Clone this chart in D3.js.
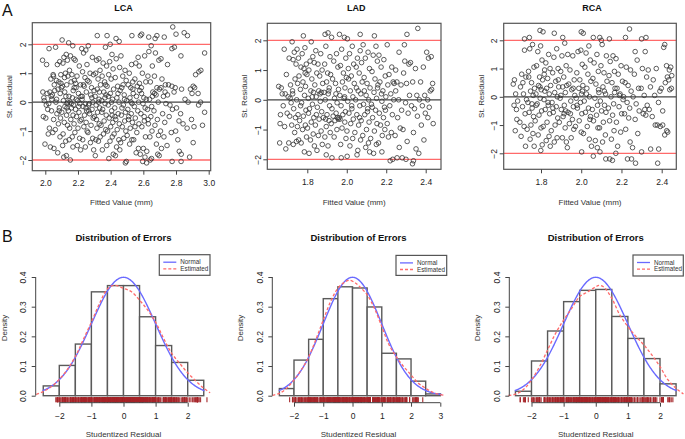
<!DOCTYPE html>
<html><head><meta charset="utf-8">
<script src="https://cdn.jsdelivr.net/npm/d3@7"></script>
<style>body{margin:0;background:#fff}svg{display:block;font-family:"Liberation Sans",Arial,sans-serif}</style>
</head><body><svg id="c" width="685" height="439"></svg>
<script>
// ---------- DATA ----------
const residTicks = [-2,-1,0,1,2];
const lcaFitTicks = [2.0,2.2,2.4,2.6,2.8,3.0];
const ladFitTicks = [1.8,2.0,2.2,2.4];
const rcaFitTicks = [1.8,2.0,2.2,2.4];
const densityTicks = [0,0.1,0.2,0.3,0.4];
const lcaResTicks = [-2,-1,0,1,2];
const ladResTicks = [-2,-1,0,1,2,3];
const rcaResTicks = [-2,-1,0,1,2];
const refLevels = [2,-2];

const lcaPoints = [
[1.983,1.45],[2.008,1.3],[1.994,0.05],[2.015,-0.25],[1.988,-0.5],[2.003,-0.55],[2.018,-1.1],[1.998,-1.45],[2.011,0.3],[1.985,0.35],[2.006,-0.1],[1.991,0.15],
[2.023,1.85],[2.048,0.95],[2.034,0.8],[2.055,0.6],[2.028,0.35],[2.043,0.25],[2.058,0.4],[2.038,-0.3],[2.051,-0.6],[2.025,-0.9],[2.046,-1.05],[2.031,-1.55],[2.053,-1.6],[2.04,0.1],[2.021,-0.05],[2.05,0.9],[2.036,0.2],
[2.063,1.9],[2.088,1.4],[2.074,1.3],[2.095,0.95],[2.068,0.75],[2.083,0.7],[2.098,0.5],[2.078,0.45],[2.091,0.3],[2.065,0.0],[2.086,-0.2],[2.071,-0.4],[2.093,-0.55],[2.08,-0.75],[2.061,-0.95],[2.09,-1.2],[2.076,-1.75],[2.096,0.65],[2.069,0.1],[2.085,-0.3],
[2.103,2.15],[2.128,1.65],[2.114,1.55],[2.135,1.45],[2.108,1.35],[2.123,1.0],[2.138,0.9],[2.118,0.85],[2.131,0.6],[2.105,0.55],[2.126,0.2],[2.111,0.05],[2.133,-0.05],[2.12,-0.15],[2.101,-0.35],[2.13,-0.45],[2.116,-0.7],[2.136,-0.8],[2.109,-1.1],[2.125,-1.35],[2.106,-1.5],[2.129,-1.85],[2.113,-1.9],[2.137,0.0],[2.119,0.35],[2.132,-0.2],
[2.143,2.05],[2.168,1.95],[2.154,1.6],[2.175,1.5],[2.148,1.1],[2.163,0.95],[2.178,0.75],[2.158,0.7],[2.171,0.4],[2.145,0.2],[2.166,0.15],[2.151,0.0],[2.173,-0.1],[2.16,-0.2],[2.141,-0.3],[2.17,-0.45],[2.156,-0.6],[2.176,-0.75],[2.149,-0.9],[2.165,-1.2],[2.146,-1.3],[2.169,-1.55],[2.153,-2.0],[2.177,0.5],[2.159,-0.05],
[2.183,1.45],[2.208,1.25],[2.194,0.9],[2.215,0.6],[2.188,0.5],[2.203,0.3],[2.218,0.2],[2.198,0.05],[2.211,-0.05],[2.185,-0.25],[2.206,-0.35],[2.191,-0.5],[2.213,-0.65],[2.2,-0.9],[2.181,-1.05],[2.21,-1.25],[2.196,-1.5],[2.216,-1.65],[2.189,0.1],[2.205,-0.15],[2.186,0.65],
[2.223,1.85],[2.248,1.8],[2.234,1.7],[2.255,1.3],[2.228,1.05],[2.243,0.85],[2.258,0.75],[2.238,0.55],[2.251,0.35],[2.225,0.1],[2.246,-0.05],[2.231,-0.15],[2.253,-0.3],[2.24,-0.45],[2.221,-0.6],[2.25,-0.7],[2.236,-0.85],[2.256,-1.0],[2.229,-1.3],[2.245,-1.55],[2.226,0.2],[2.249,-0.2],[2.233,0.6],
[2.263,1.95],[2.288,1.55],[2.274,1.0],[2.295,0.95],[2.268,0.7],[2.283,0.5],[2.298,0.4],[2.278,0.25],[2.291,0.0],[2.265,-0.1],[2.286,-0.25],[2.271,-0.4],[2.293,-0.55],[2.28,-0.8],[2.261,-1.05],[2.29,-1.25],[2.276,-1.4],[2.296,-1.65],[2.269,-0.05],[2.285,0.15],[2.266,-0.3],
[2.318,2.3],[2.328,1.5],[2.314,1.45],[2.335,1.1],[2.308,1.0],[2.323,0.8],[2.338,0.6],[2.318,0.45],[2.331,0.35],[2.305,0.2],[2.326,0.0],[2.311,-0.1],[2.333,-0.2],[2.32,-0.35],[2.301,-0.5],[2.33,-0.75],[2.316,-0.9],[2.336,-1.2],[2.309,-1.3],[2.325,-1.35],[2.306,-1.85],[2.329,0.1],[2.313,-0.6],
[2.378,2.3],[2.368,1.9],[2.354,1.35],[2.375,1.25],[2.348,0.9],[2.363,0.7],[2.378,0.55],[2.358,0.35],[2.371,0.25],[2.345,0.05],[2.366,-0.05],[2.351,-0.25],[2.373,-0.45],[2.36,-0.65],[2.341,-0.8],[2.37,-0.95],[2.356,-1.1],[2.376,-1.5],[2.349,-1.65],[2.365,0.15],[2.346,-0.35],[2.369,0.6],
[2.397,2.0],[2.408,1.65],[2.394,1.4],[2.415,1.15],[2.388,0.95],[2.403,0.8],[2.418,0.45],[2.398,0.3],[2.411,0.1],[2.385,-0.1],[2.406,-0.3],[2.391,-0.55],[2.413,-0.7],[2.4,-0.85],[2.381,-1.0],[2.41,-1.2],[2.396,-1.35],[2.416,-1.8],[2.389,-1.95],[2.405,0.0],[2.386,0.2],[2.409,-0.45],
[2.433,2.2],[2.452,2.1],[2.434,1.5],[2.455,1.2],[2.428,0.85],[2.443,0.55],[2.458,0.4],[2.438,0.15],[2.451,0.0],[2.425,-0.2],[2.446,-0.4],[2.431,-0.6],[2.453,-0.75],[2.44,-0.95],[2.421,-1.1],[2.45,-1.3],[2.436,-1.55],[2.456,-1.65],[2.429,-1.85],[2.445,0.3],[2.426,-0.5],
[2.463,1.6],[2.488,1.1],[2.474,0.9],[2.495,0.75],[2.468,0.5],[2.483,0.25],[2.498,0.05],[2.478,-0.1],[2.491,-0.35],[2.465,-0.45],[2.486,-0.65],[2.471,-0.85],[2.493,-1.0],[2.48,-1.25],[2.461,-1.4],[2.49,-2.1],[2.496,-2.05],[2.476,0.6],[2.469,-0.2],[2.485,0.1],
[2.53,2.3],[2.528,1.3],[2.514,1.0],[2.535,0.7],[2.508,0.6],[2.523,0.5],[2.538,0.3],[2.518,0.15],[2.531,-0.05],[2.505,-0.25],[2.526,-0.4],[2.511,-0.5],[2.533,-0.7],[2.52,-0.9],[2.501,-1.15],[2.53,-1.3],[2.516,-1.45],[2.536,0.45],[2.509,-0.6],[2.525,0.0],
[2.582,2.3],[2.568,1.55],[2.554,1.35],[2.575,1.25],[2.548,0.8],[2.563,0.55],[2.578,0.4],[2.558,0.2],[2.571,0.0],[2.545,-0.15],[2.566,-0.3],[2.551,-0.55],[2.573,-0.75],[2.56,-1.05],[2.541,-1.3],[2.57,-1.6],[2.556,-1.75],[2.576,0.65],[2.549,-0.85],
[2.59,2.35],[2.608,1.6],[2.594,1.0],[2.615,0.7],[2.588,0.5],[2.603,0.15],[2.618,0.1],[2.598,-0.05],[2.611,-0.2],[2.585,-0.4],[2.606,-0.65],[2.591,-0.85],[2.613,-1.2],[2.6,-1.6],[2.581,-1.8],[2.61,-1.9],[2.596,-2.05],[2.62,-2.1],[2.589,0.3],[2.605,-0.5],
[2.633,2.25],[2.648,1.95],[2.634,1.75],[2.655,1.25],[2.628,0.9],[2.643,0.7],[2.658,0.35],[2.638,0.1],[2.651,-0.15],[2.625,-0.25],[2.646,-0.5],[2.631,-0.75],[2.653,-1.0],[2.64,-1.2],[2.621,-1.7],[2.65,-1.95],[2.642,-2.0],[2.656,0.2],[2.629,-0.6],
[2.683,2.3],[2.672,2.2],[2.674,1.7],[2.695,1.45],[2.668,0.9],[2.683,0.5],[2.698,0.45],[2.678,0.25],[2.691,0.0],[2.665,-0.3],[2.686,-0.6],[2.671,-0.8],[2.693,-1.15],[2.68,-1.45],[2.688,-1.8],[2.697,-1.85],[2.669,0.3],
[2.728,2.25],[2.708,1.5],[2.714,0.8],[2.735,0.6],[2.708,0.5],[2.723,0.2],[2.738,-0.05],[2.718,-0.4],[2.731,-0.7],[2.705,-1.0],[2.726,-1.2],[2.711,-1.6],[2.733,0.35],
[2.775,1.85],[2.748,1.3],[2.754,0.6],[2.775,0.55],[2.748,0.25],[2.763,-0.1],[2.778,-0.25],[2.758,-0.5],[2.771,-1.05],[2.745,-1.5],[2.776,-2.05],
[2.78,2.6],[2.8,2.35],[2.79,1.9],[2.795,0.5],[2.788,0.35],[2.803,-0.2],[2.818,-0.65],[2.798,-1.0],[2.811,-1.3],
[2.85,2.4],[2.83,1.6],[2.834,0.45],[2.855,0.1],[2.828,-0.4],[2.843,-0.75],[2.82,-1.7],[2.832,-1.8],[2.831,-2.05],
[2.87,2.3],[2.888,0.45],[2.874,0.0],[2.895,-0.6],[2.868,-0.9],[2.883,-1.9],[2.898,0.3],
[2.94,1.05],[2.905,0.55],[2.914,0.5],[2.935,0.3],[2.938,-0.1],[2.91,-0.85],[2.905,-1.4],[2.92,0.95],
[2.975,1.7],[2.952,1.1],[2.95,0.0],[2.975,-0.35],[2.962,-0.8]
];

const ladPoints = [
[1.655,0.45],[1.668,0.4],[1.664,-0.5],[1.662,-0.8],[1.66,-1.45],[1.673,0.2],[1.678,-0.2],
[1.683,1.7],[1.708,1.4],[1.694,0.85],[1.715,0.5],[1.688,0.2],[1.703,0.1],[1.718,-0.1],[1.698,-0.45],[1.711,-0.55],[1.685,-0.9],[1.706,-1.45],[1.691,-1.65],[1.713,0.05],
[1.723,1.95],[1.748,1.7],[1.734,1.6],[1.755,1.4],[1.728,1.35],[1.743,1.2],[1.758,0.8],[1.738,0.7],[1.751,0.55],[1.725,0.3],[1.746,0.0],[1.731,-0.3],[1.753,-0.5],[1.74,-0.6],[1.721,-0.85],[1.75,-0.9],[1.736,-1.1],[1.756,-1.35],[1.729,-1.5],[1.745,-1.4],[1.726,0.2],
[1.78,2.15],[1.788,1.75],[1.774,1.55],[1.795,1.2],[1.768,1.1],[1.783,1.05],[1.798,0.85],[1.778,0.6],[1.791,0.45],[1.765,0.35],[1.786,0.15],[1.771,-0.1],[1.793,-0.35],[1.78,-0.55],[1.761,-0.7],[1.79,-0.85],[1.776,-1.0],[1.796,-1.25],[1.769,-1.45],[1.785,-1.75],[1.766,-0.2],[1.789,0.9],
[1.82,1.95],[1.828,1.45],[1.814,1.3],[1.835,1.25],[1.808,1.0],[1.823,0.7],[1.838,0.5],[1.818,0.3],[1.831,0.25],[1.805,0.05],[1.826,-0.15],[1.811,-0.3],[1.833,-0.6],[1.82,-0.75],[1.801,-0.95],[1.83,-1.15],[1.816,-1.35],[1.836,-1.55],[1.809,-1.8],[1.825,0.1],[1.806,-0.45],
[1.843,1.65],[1.868,1.55],[1.854,1.2],[1.875,1.0],[1.848,0.9],[1.863,0.8],[1.878,0.55],[1.858,0.3],[1.871,0.25],[1.845,0.1],[1.866,-0.05],[1.851,-0.25],[1.873,-0.4],[1.86,-0.65],[1.841,-0.85],[1.87,-1.05],[1.856,-1.2],[1.876,-1.5],[1.849,-1.7],[1.865,0.2],[1.846,-0.5],
[1.89,2.2],[1.905,2.25],[1.894,1.8],[1.915,1.45],[1.888,1.2],[1.903,0.9],[1.918,0.85],[1.898,0.6],[1.911,0.4],[1.885,0.25],[1.906,0.2],[1.891,0.0],[1.913,-0.2],[1.9,-0.5],[1.881,-0.6],[1.91,-0.7],[1.896,-0.9],[1.916,-1.1],[1.889,-1.25],[1.905,-1.55],[1.896,-1.85],[1.909,0.3],[1.893,-0.65],
[1.923,2.1],[1.948,1.55],[1.934,1.3],[1.955,1.1],[1.928,0.7],[1.943,0.55],[1.958,0.35],[1.938,0.05],[1.951,-0.1],[1.925,-0.3],[1.946,-0.45],[1.931,-0.55],[1.953,-0.6],[1.94,-0.7],[1.921,-0.8],[1.95,-1.0],[1.936,-1.25],[1.925,-1.95],[1.957,-0.65],[1.945,0.2],
[1.963,2.2],[1.988,2.1],[1.974,1.7],[1.995,1.4],[1.968,1.15],[1.983,0.9],[1.998,0.75],[1.978,0.6],[1.991,0.4],[1.965,0.15],[1.986,0.05],[1.971,-0.2],[1.993,-0.4],[1.98,-0.5],[1.961,-0.6],[1.99,-0.75],[1.976,-0.95],[1.996,-1.3],[1.969,-1.5],[1.972,-1.95],[1.966,-0.65],[1.989,0.1],
[2.003,2.05],[2.028,1.8],[2.014,1.55],[2.035,1.2],[2.008,1.05],[2.023,0.8],[2.038,0.55],[2.018,0.3],[2.031,0.1],[2.005,-0.05],[2.026,-0.3],[2.011,-0.45],[2.033,-0.65],[2.02,-0.8],[2.001,-1.05],[2.03,-1.3],[2.016,-1.55],[2.002,-1.9],[2.009,0.7],[2.025,-0.2],
[2.068,2.2],[2.068,1.65],[2.054,1.4],[2.075,1.25],[2.048,1.1],[2.063,0.9],[2.078,0.6],[2.058,0.3],[2.071,0.2],[2.045,0.0],[2.066,-0.2],[2.051,-0.5],[2.073,-0.7],[2.06,-0.85],[2.041,-1.1],[2.07,-1.35],[2.056,-1.7],[2.052,-1.85],[2.049,0.4],[2.065,-0.6],
[2.083,1.85],[2.108,1.6],[2.094,1.4],[2.115,1.05],[2.088,0.75],[2.103,0.55],[2.118,0.4],[2.098,0.15],[2.111,0.0],[2.085,-0.15],[2.106,-0.3],[2.091,-0.5],[2.113,-0.75],[2.1,-1.0],[2.081,-1.2],[2.11,-1.45],[2.096,-1.6],[2.116,-1.75],[2.089,0.3],[2.105,-0.4],
[2.14,2.15],[2.148,1.8],[2.134,1.5],[2.155,1.3],[2.128,0.95],[2.143,0.7],[2.158,0.5],[2.138,0.25],[2.151,0.05],[2.125,-0.15],[2.146,-0.35],[2.131,-0.6],[2.153,-0.8],[2.14,-1.05],[2.121,-1.3],[2.15,-1.5],[2.136,-1.8],[2.156,0.4],[2.129,-0.25],
[2.163,1.5],[2.188,1.35],[2.174,1.1],[2.195,0.8],[2.168,0.6],[2.183,0.3],[2.198,0.1],[2.178,-0.05],[2.191,-0.25],[2.165,-0.45],[2.186,-0.6],[2.171,-0.85],[2.193,-1.0],[2.18,-1.2],[2.161,-1.45],[2.178,-1.75],[2.176,0.2],[2.196,-0.35],
[2.205,1.85],[2.228,1.1],[2.214,0.85],[2.235,0.6],[2.208,0.5],[2.223,0.2],[2.238,0.0],[2.218,-0.2],[2.231,-0.5],[2.205,-0.8],[2.226,-1.1],[2.211,-1.25],[2.22,-2.05],[2.233,-2.0],[2.24,0.55],
[2.265,1.6],[2.248,1.0],[2.254,0.6],[2.275,0.5],[2.248,0.3],[2.263,0.0],[2.278,-0.35],[2.258,-0.6],[2.271,-0.95],[2.245,-1.2],[2.266,-1.6],[2.255,-1.95],
[2.305,2.2],[2.292,1.85],[2.294,1.3],[2.315,1.2],[2.288,0.9],[2.303,0.55],[2.318,0.15],[2.298,-0.1],[2.311,-0.45],[2.285,-1.0],[2.306,-1.4],[2.281,-1.95],[2.3,-2.0],
[2.323,1.25],[2.348,1.05],[2.334,0.6],[2.355,0.15],[2.328,-0.2],[2.343,-0.3],[2.358,-0.55],[2.338,-1.1],[2.351,-1.65],[2.338,-2.05],[2.333,-2.15],
[2.36,2.4],[2.388,1.1],[2.374,0.6],[2.395,0.15],[2.368,0.0],[2.383,-0.2],[2.398,-0.45],[2.378,-0.85],[2.391,-1.35],[2.365,-1.8],
[2.405,1.6],[2.428,1.45],[2.414,1.4],[2.435,0.55],[2.43,0.35],[2.423,0.3],[2.41,0.0],[2.418,-0.25],[2.411,-0.6],[2.438,-0.8]
];

const rcaPoints = [
[1.668,0.6],[1.662,0.45],[1.674,0.1],[1.666,-0.3],[1.678,-0.45],[1.68,-0.8],[1.672,-1.2],[1.684,-0.15],
[1.718,2.05],[1.718,1.65],[1.704,0.8],[1.725,0.7],[1.698,0.35],[1.713,0.1],[1.728,-0.1],[1.708,-0.35],[1.721,-0.6],[1.695,-0.9],[1.716,-1.05],[1.701,-1.4],[1.723,-1.75],[1.71,0.5],
[1.742,2.1],[1.758,1.85],[1.744,1.7],[1.765,1.05],[1.738,0.9],[1.753,0.5],[1.768,0.3],[1.748,0.2],[1.761,0.05],[1.735,-0.2],[1.756,-0.4],[1.741,-0.55],[1.763,-0.7],[1.75,-1.0],[1.731,-1.15],[1.76,-1.3],[1.746,-1.5],[1.766,-1.75],[1.739,0.7],[1.755,-0.25],
[1.795,2.35],[1.798,1.8],[1.784,1.6],[1.805,1.3],[1.778,1.1],[1.793,0.7],[1.808,0.6],[1.788,0.4],[1.801,0.25],[1.775,0.1],[1.796,-0.05],[1.781,-0.25],[1.803,-0.5],[1.79,-0.65],[1.771,-0.85],[1.8,-1.1],[1.786,-1.35],[1.806,-1.7],[1.799,-1.9],[1.795,0.35],[1.776,-0.3],
[1.81,2.3],[1.838,1.5],[1.824,1.2],[1.845,1.0],[1.818,0.95],[1.833,0.65],[1.848,0.4],[1.828,0.3],[1.841,0.1],[1.815,-0.1],[1.836,-0.3],[1.821,-0.45],[1.843,-0.6],[1.83,-0.9],[1.811,-1.05],[1.84,-1.4],[1.826,-1.55],[1.846,-1.75],[1.819,0.2],[1.835,-0.2],[1.816,0.8],
[1.866,2.25],[1.878,1.7],[1.864,1.4],[1.885,1.0],[1.858,0.85],[1.873,0.55],[1.888,0.35],[1.868,0.15],[1.881,0.0],[1.855,-0.2],[1.876,-0.35],[1.861,-0.55],[1.883,-0.75],[1.87,-1.0],[1.851,-1.2],[1.88,-1.45],[1.866,-1.6],[1.886,0.6],[1.859,-0.4],
[1.908,2.1],[1.918,1.9],[1.904,1.45],[1.925,1.1],[1.898,0.9],[1.913,0.7],[1.928,0.4],[1.908,0.35],[1.921,0.15],[1.895,-0.05],[1.916,-0.3],[1.901,-0.45],[1.923,-0.5],[1.91,-0.7],[1.891,-0.9],[1.92,-1.1],[1.906,-1.45],[1.926,-1.6],[1.899,0.05],[1.915,-0.6],
[1.933,1.5],[1.958,1.45],[1.944,0.95],[1.965,0.6],[1.938,0.45],[1.953,0.25],[1.968,0.05],[1.948,-0.15],[1.961,-0.35],[1.935,-0.55],[1.956,-0.8],[1.941,-0.95],[1.963,-1.15],[1.95,-1.45],[1.931,-1.8],[1.96,0.3],[1.946,-0.6],
[2.0,2.3],[1.998,1.65],[1.984,1.6],[2.005,1.15],[1.978,0.85],[1.993,0.6],[2.008,0.4],[1.988,0.3],[2.001,0.1],[1.975,-0.05],[1.996,-0.2],[1.981,-0.4],[2.003,-0.6],[1.99,-0.85],[1.971,-1.05],[2.0,-1.25],[2.002,-1.95],[2.006,0.2],[1.979,-0.3],
[2.01,2.25],[2.038,1.8],[2.024,1.55],[2.045,1.3],[2.018,1.05],[2.033,0.8],[2.048,0.55],[2.028,0.3],[2.041,0.0],[2.015,-0.15],[2.036,-0.4],[2.021,-0.55],[2.043,-0.8],[2.03,-1.05],[2.011,-1.3],[2.04,-1.5],[2.026,0.1],[2.046,-0.7],
[2.06,2.1],[2.078,1.5],[2.064,1.2],[2.085,0.9],[2.058,0.65],[2.073,0.45],[2.088,0.15],[2.068,-0.05],[2.081,-0.3],[2.055,-0.45],[2.076,-0.65],[2.061,-0.85],[2.083,-1.1],[2.07,-1.55],[2.051,-1.75],[2.08,-1.8],[2.06,-2.1],[2.086,0.25],
[2.092,2.1],[2.1,2.0],[2.104,1.85],[2.125,1.45],[2.098,1.1],[2.113,0.85],[2.128,0.55],[2.108,0.35],[2.121,0.1],[2.095,-0.15],[2.116,-0.3],[2.101,-0.5],[2.123,-0.55],[2.11,-0.9],[2.091,-1.1],[2.12,-1.35],[2.106,-1.6],[2.122,-2.2],[2.093,-1.95],[2.115,0.2],
[2.14,2.05],[2.158,1.45],[2.144,1.25],[2.165,0.9],[2.138,0.75],[2.153,0.5],[2.168,0.3],[2.148,0.0],[2.161,-0.25],[2.135,-0.4],[2.156,-0.65],[2.141,-0.85],[2.163,-1.2],[2.15,-1.5],[2.142,-2.2],[2.155,-2.25],[2.166,0.15],
[2.173,1.35],[2.198,1.1],[2.184,0.8],[2.205,0.55],[2.178,0.3],[2.193,0.1],[2.208,-0.1],[2.188,-0.35],[2.201,-0.6],[2.175,-0.9],[2.196,-1.25],[2.181,-1.75],[2.172,-2.0],[2.19,0.05],
[2.24,2.4],[2.22,2.1],[2.224,1.05],[2.245,0.95],[2.218,0.5],[2.233,0.4],[2.248,0.2],[2.228,-0.2],[2.241,-0.4],[2.215,-0.6],[2.236,-0.75],[2.221,-1.15],[2.243,-1.6],[2.23,-2.2],[2.211,0.0],
[2.268,1.6],[2.278,1.3],[2.264,0.8],[2.285,0.3],[2.258,0.0],[2.273,-0.25],[2.288,-0.5],[2.268,-0.8],[2.281,-1.3],[2.255,-1.8],[2.27,-2.35],[2.25,-2.2],
[2.3,2.05],[2.318,1.6],[2.304,1.0],[2.325,0.7],[2.298,0.3],[2.313,0.05],[2.328,-0.3],[2.308,-0.6],[2.321,-0.65],[2.3,-1.95],[2.316,-0.45],
[2.333,0.95],[2.358,0.6],[2.344,0.35],[2.365,0.05],[2.338,-0.45],[2.353,-0.7],[2.368,-1.0],[2.345,-1.85],[2.322,2.1],
[2.373,1.0],[2.398,0.3],[2.384,-0.2],[2.405,-0.5],[2.378,-1.0],[2.393,-1.05],[2.385,-1.85],[2.38,-2.35],[2.391,0.2],
[2.415,1.85],[2.41,1.75],[2.424,1.1],[2.435,0.6],[2.418,0.5],[2.428,0.7],[2.438,0.95],[2.44,0.25],[2.405,-1.0],[2.425,-1.2],[2.415,-1.35],[2.43,-1.25],
[2.445,1.05],[2.45,0.75],[2.448,0.3]
];

// histogram densities (bins of width 0.5 starting at -2.5)
const binStart = -2.5, binWidth = 0.5;
const lcaHist = [0.033,0.102,0.174,0.350,0.371,0.371,0.266,0.169,0.112,0.052];
const ladHist = [0.024,0.120,0.190,0.327,0.367,0.363,0.299,0.143,0.124,0.049,0.006];
const rcaHist = [0.015,0.117,0.218,0.317,0.355,0.358,0.267,0.193,0.125,0.040];

// estimated (kernel) density curves
const lcaEstX = [-2.72,-2.5,-2.25,-2,-1.75,-1.5,-1.25,-1,-0.75,-0.5,-0.3,0,0.25,0.5,0.75,1,1.25,1.5,1.75,2,2.25,2.5,2.7];
const lcaEstY = [0.004,0.014,0.03,0.055,0.088,0.132,0.19,0.248,0.31,0.36,0.372,0.362,0.35,0.322,0.289,0.248,0.193,0.143,0.109,0.077,0.05,0.025,0.01];
const ladEstX = [-2.74,-2.5,-2.25,-2,-1.75,-1.5,-1.25,-1,-0.75,-0.5,-0.25,-0.1,0.1,0.25,0.5,0.75,1,1.25,1.5,1.75,2,2.25,2.5,2.75,3,3.12];
const ladEstY = [0.001,0.008,0.025,0.053,0.087,0.13,0.19,0.255,0.317,0.362,0.384,0.389,0.38,0.367,0.34,0.294,0.233,0.171,0.131,0.098,0.07,0.042,0.025,0.011,0.004,0.002];
const rcaEstX = [-2.72,-2.5,-2.25,-2,-1.75,-1.5,-1.25,-1,-0.75,-0.5,-0.25,0,0.1,0.25,0.5,0.75,1,1.25,1.5,1.75,2,2.25,2.5,2.73];
const rcaEstY = [0.001,0.005,0.021,0.053,0.098,0.154,0.21,0.255,0.294,0.334,0.35,0.367,0.372,0.366,0.328,0.272,0.233,0.2,0.171,0.137,0.098,0.053,0.025,0.006];
const normalRanges = {LCA:[-2.52,2.52], LAD:[-2.52,3.06], RCA:[-2.52,2.52]};

const legendLabels = ["Normal","Estimated"];

// ---------- DRAW ----------
const svg = d3.select("#c");
const FONT = '"Liberation Sans",Arial,sans-serif';
const BLUE = "#6a6aff", RED = "#ff6a6a", RUG = "#a52327";

function txt(x,y,s,opt={}){
  const t = svg.append("text").attr("x",x).attr("y",y).text(s)
    .attr("font-size",opt.size||8).attr("fill",opt.fill||"#222")
    .attr("text-anchor",opt.anchor||"middle").attr("font-weight",opt.weight||"normal");
  if(opt.rot) t.attr("transform",`rotate(-90,${x},${y})`);
  return t;
}
function styleAxis(g,size){
  g.select(".domain").remove();
  g.selectAll(".tick line").attr("stroke","#444").attr("stroke-width",1);
  g.selectAll("text").attr("font-size",size).attr("fill","#222").attr("font-family",FONT);
}
function leftLabels(g,dist){
  g.selectAll(".tick text").attr("transform","rotate(-90)").attr("x",0).attr("y",-(dist-3)).attr("dy",0).attr("text-anchor","middle");
}

const scatterPanels = [
  {name:"LCA", pts:lcaPoints, ticks:lcaFitTicks, xd:[2.0,3.0], xr:[45.3,208.7], yr:[160,44.3], fx:[32.3,210.7], fy:[22.7,170.7]},
  {name:"LAD", pts:ladPoints, ticks:ladFitTicks, xd:[1.8,2.4], xr:[307.3,425.7], yr:[159.3,40.3], fx:[267.3,441], fy:[23.3,169.3]},
  {name:"RCA", pts:rcaPoints, ticks:rcaFitTicks, xd:[1.8,2.4], xr:[541,661.7], yr:[153.3,40.3], fx:[503.7,676.3], fy:[23.3,169.3]}
];

scatterPanels.forEach(p=>{
  const x = d3.scaleLinear().domain(p.xd).range(p.xr);
  const y = d3.scaleLinear().domain([-2,2]).range(p.yr);
  const g = svg.append("g");
  refLevels.forEach(v=>g.append("line").attr("x1",p.fx[0]).attr("x2",p.fx[1]).attr("y1",y(v)).attr("y2",y(v))
    .attr("stroke",RED).attr("stroke-width",1.3));
  g.append("line").attr("x1",p.fx[0]).attr("x2",p.fx[1]).attr("y1",y(0)).attr("y2",y(0)).attr("stroke","#444").attr("stroke-width",1.2);
  g.append("g").selectAll("circle").data(p.pts).join("circle")
    .attr("cx",d=>x(d[0])).attr("cy",d=>y(d[1])).attr("r",2.3)
    .attr("fill","none").attr("stroke","#333").attr("stroke-width",0.8);
  g.append("rect").attr("x",p.fx[0]).attr("y",p.fy[0]).attr("width",p.fx[1]-p.fx[0]).attr("height",p.fy[1]-p.fy[0])
    .attr("fill","none").attr("stroke","#555").attr("stroke-width",1.2);
  const ax = g.append("g").attr("transform",`translate(0,${p.fy[1]})`)
    .call(d3.axisBottom(x).tickValues(p.ticks).tickFormat(d3.format(".1f")).tickSize(4).tickPadding(5.5));
  styleAxis(ax,8.5);
  const ay = g.append("g").attr("transform",`translate(${p.fx[0]},0)`)
    .call(d3.axisLeft(y).tickValues(residTicks).tickFormat(d3.format("d")).tickSize(4));
  styleAxis(ay,8.5); leftLabels(ay,9.6);
  const cx = (p.fx[0]+p.fx[1])/2;
  txt(cx+2,11,p.name,{size:9,weight:"bold",fill:"#111"});
  txt(cx,204.5,"Fitted Value (mm)",{size:8,fill:"#333"});
  txt(p.fx[0]-20,(p.fy[0]+p.fy[1])/2,"St. Residual",{size:8,fill:"#333",rot:true});
});

const histPanels = [
  {name:"LCA", hist:lcaHist, rug:lcaPoints, estX:lcaEstX, estY:lcaEstY, ticks:lcaResTicks, xd:[-2,2], xr:[59.3,187.7], axX:35.7, leg:[159.3,254.7,50.7,20.6]},
  {name:"LAD", hist:ladHist, rug:ladPoints, estX:ladEstX, estY:ladEstY, ticks:ladResTicks, xd:[-2,3], xr:[294,440.3], axX:272.3, leg:[396,255.4,50.7,20]},
  {name:"RCA", hist:rcaHist, rug:rcaPoints, estX:rcaEstX, estY:rcaEstY, ticks:rcaResTicks, xd:[-2,2], xr:[531.5,660], axX:509.3, leg:[633,255,50.3,21]}
];

histPanels.forEach(p=>{
  const x = d3.scaleLinear().domain(p.xd).range(p.xr);
  const y = d3.scaleLinear().domain([0,0.4]).range([395.7,277]);
  const g = svg.append("g");
  g.append("g").selectAll("rect").data(p.hist).join("rect")
    .attr("x",(d,i)=>x(binStart+i*binWidth)).attr("width",(d,i)=>x(binStart+(i+1)*binWidth)-x(binStart+i*binWidth))
    .attr("y",d=>y(d)).attr("height",d=>y(0)-y(d))
    .attr("fill","#fff").attr("stroke","#5a5a5a").attr("stroke-width",1.4);
  const nr = normalRanges[p.name];
  const nd = d3.range(nr[0],nr[1]+0.001,0.02).map(v=>[v,Math.exp(-v*v/2)/Math.sqrt(2*Math.PI)]);
  const line = d3.line().x(d=>x(d[0])).y(d=>y(d[1]));
  g.append("path").attr("d",line(nd)).attr("fill","none").attr("stroke",BLUE).attr("stroke-width",1.4);
  const ed = p.estX.map((v,i)=>[v,p.estY[i]]);
  g.append("path").attr("d",line.curve(d3.curveCatmullRom)(ed)).attr("fill","none").attr("stroke",RED)
    .attr("stroke-width",1.3).attr("stroke-dasharray","3,2");
  // rug of studentized residuals
  g.append("g").selectAll("line").data(p.rug).join("line")
    .attr("x1",d=>x(d[1])).attr("x2",d=>x(d[1])).attr("y1",397.2).attr("y2",402.3)
    .attr("stroke",RUG).attr("stroke-width",1.2).attr("opacity",0.9);
  const ax = g.append("g").attr("transform","translate(0,402.7)")
    .call(d3.axisBottom(x).tickValues(p.ticks).tickFormat(d3.format("d")).tickSize(4).tickPadding(6));
  styleAxis(ax,8.5);
  g.append("line").attr("x1",x(p.ticks[0])).attr("x2",x(p.ticks[p.ticks.length-1])).attr("y1",402.7).attr("y2",402.7).attr("stroke","#444");
  const ay = g.append("g").attr("transform",`translate(${p.axX},0)`)
    .call(d3.axisLeft(y).tickValues(densityTicks).tickFormat(d3.format(".1f")).tickSize(4));
  styleAxis(ay,8.5); leftLabels(ay,12.4);
  g.append("line").attr("x1",p.axX).attr("x2",p.axX).attr("y1",y(0)).attr("y2",y(0.4)).attr("stroke","#444");
  const cx = (x(-2.5)+x(2.5))/2 + (p.name==="LAD"?6:0);
  txt(cx,241,"Distribution of Errors",{size:9.5,weight:"bold",fill:"#111"});
  txt(cx,436.5,"Studentized Residual",{size:8,fill:"#333"});
  txt(p.axX-29,328,"Density",{size:8,fill:"#333",rot:true});
  const [lx,ly,lw,lh] = p.leg;
  g.append("rect").attr("x",lx).attr("y",ly).attr("width",lw).attr("height",lh).attr("fill","#fff").attr("stroke","#555").attr("stroke-width",1.2);
  const styles = [{c:BLUE,d:null},{c:RED,d:"3,2"}];
  legendLabels.forEach((s,i)=>{
    const yy = ly+7.5+i*6.6;
    const l = g.append("line").attr("x1",lx+4).attr("x2",lx+17).attr("y1",yy).attr("y2",yy).attr("stroke",styles[i].c).attr("stroke-width",1.3);
    if(styles[i].d) l.attr("stroke-dasharray",styles[i].d);
    txt(lx+21,yy+2.2,s,{size:6.3,anchor:"start",fill:"#333"});
  });
});

txt(2,16,"A",{size:16,anchor:"start",fill:"#111"});
txt(2,242,"B",{size:16,anchor:"start",fill:"#111"});
</script></body></html>
